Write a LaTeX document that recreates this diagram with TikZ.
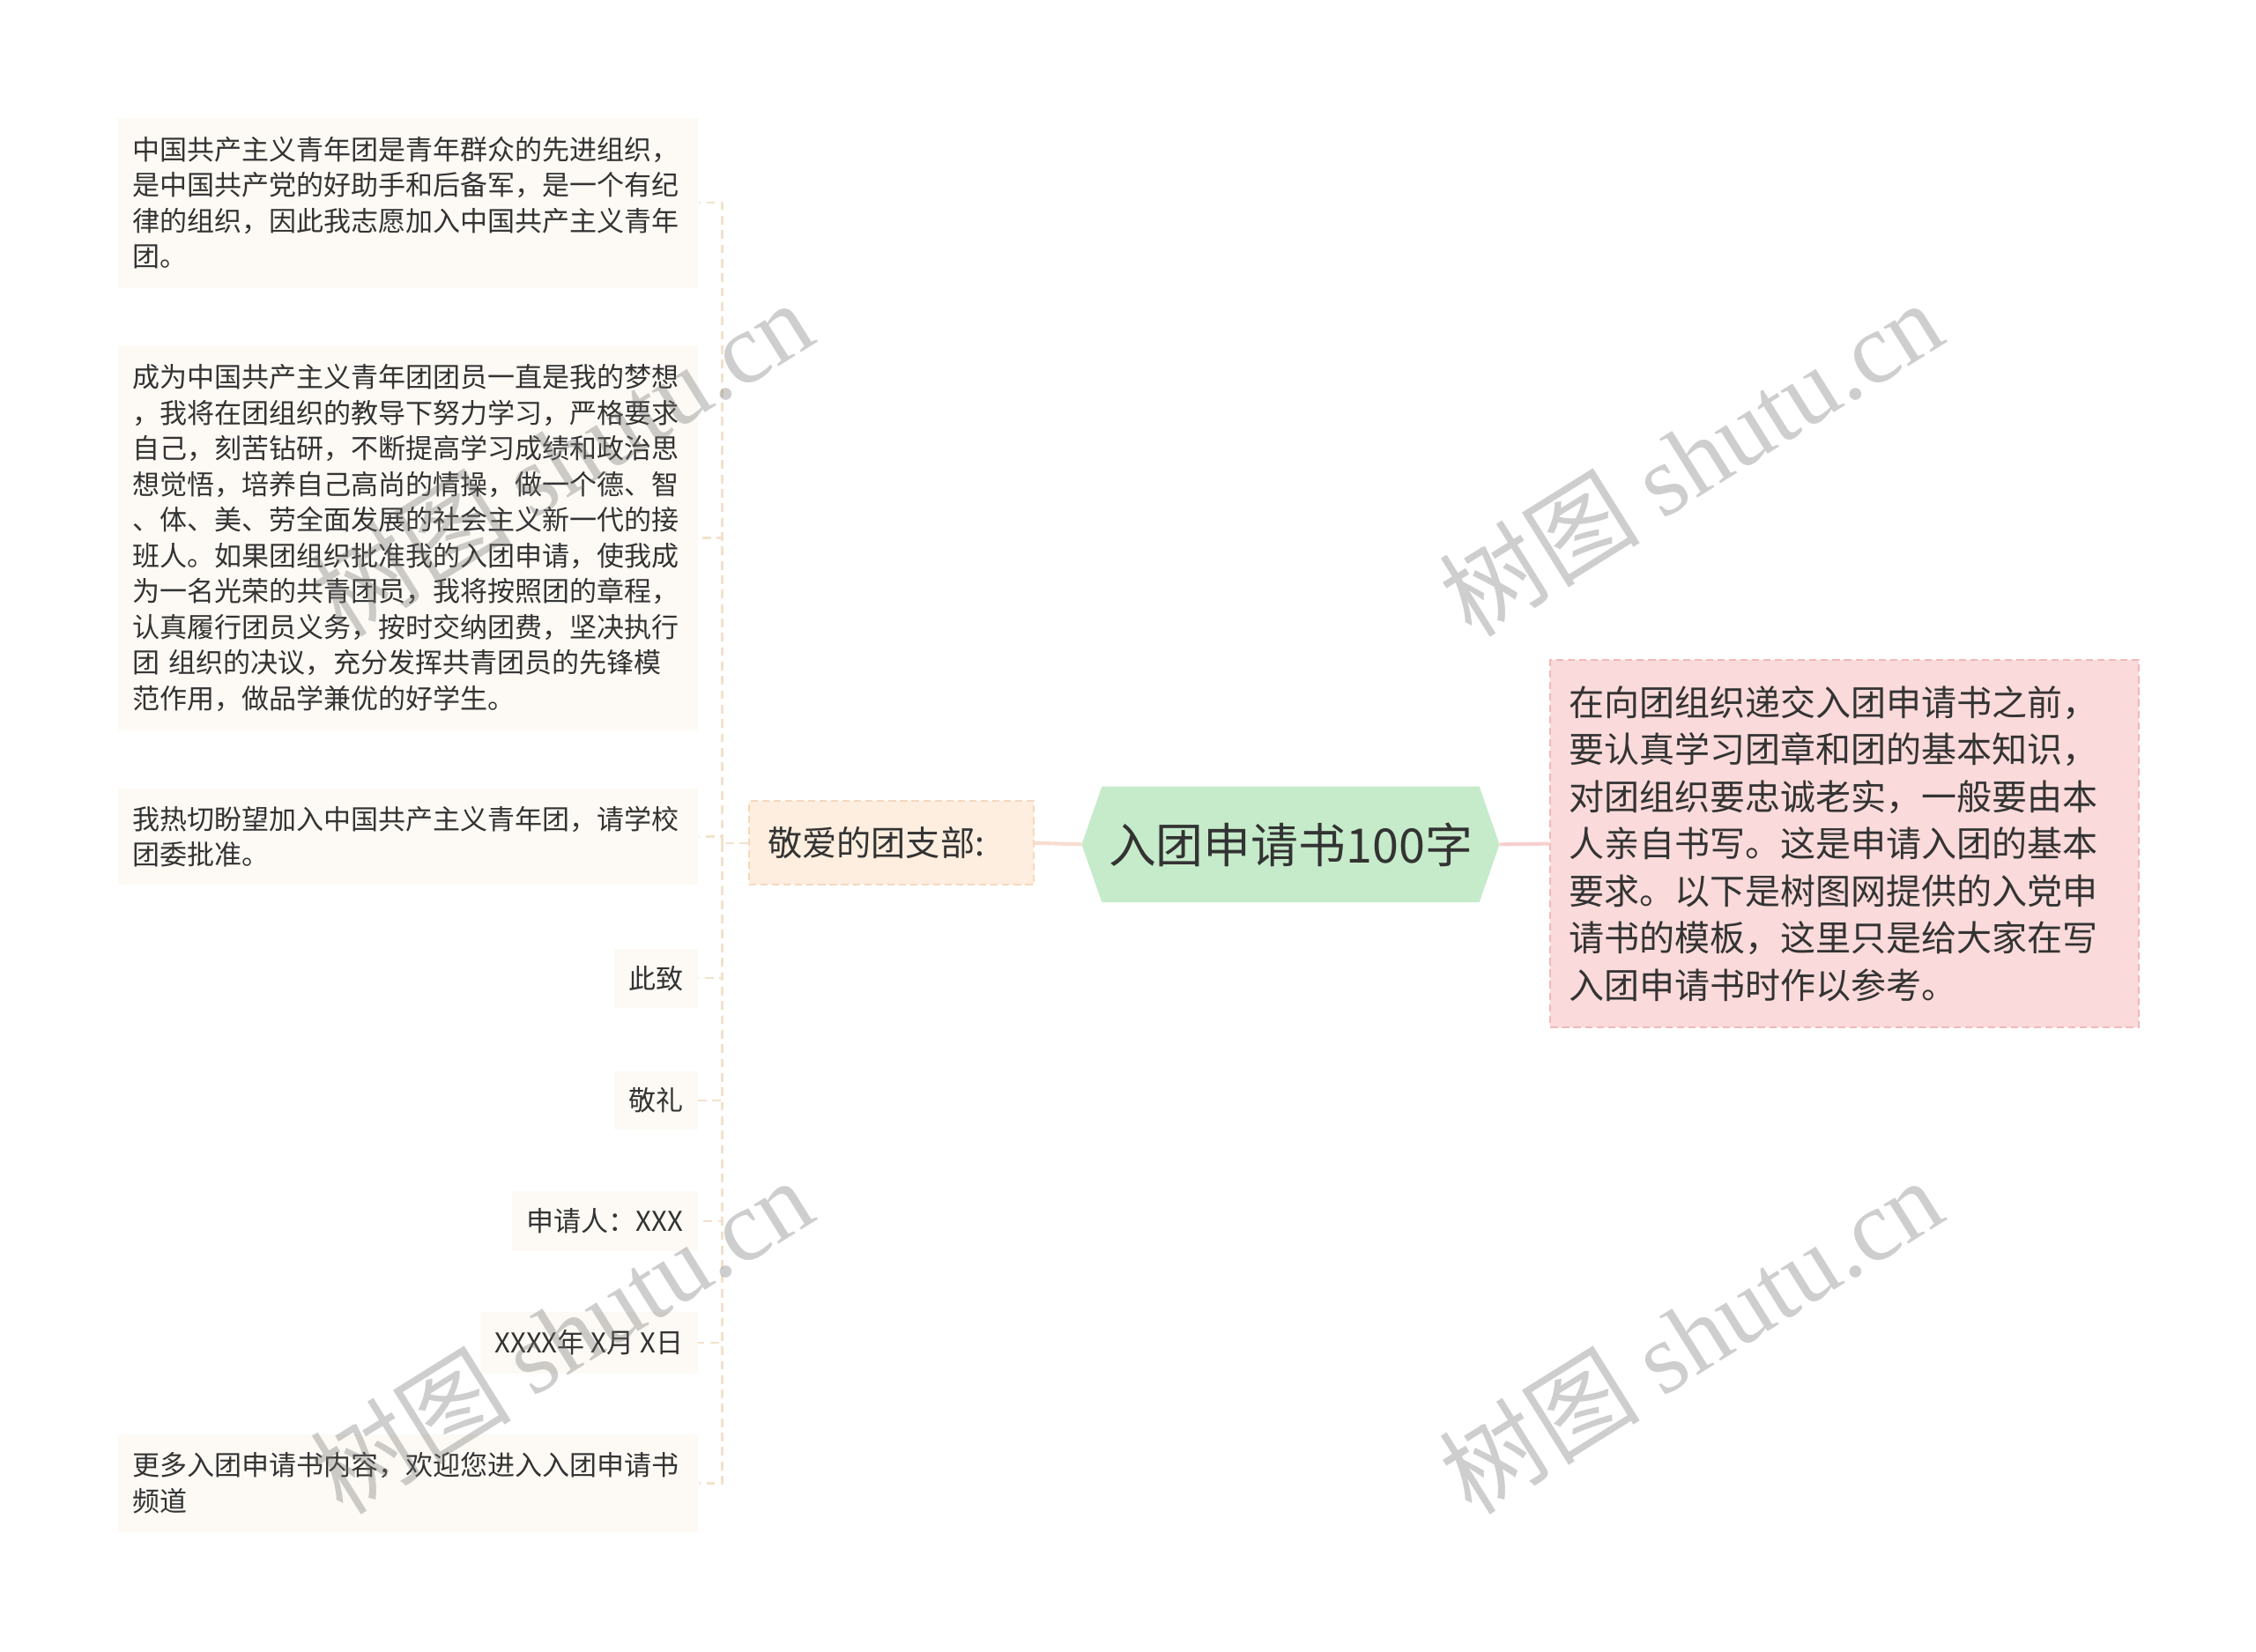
\documentclass[tikz,border=0pt]{standalone}
\usepackage{fontspec}
\setmainfont{Noto Sans CJK SC}
\newfontfamily\wmserif{Liberation Serif}
\newfontfamily\wmcjk{Noto Sans CJK SC}
\usetikzlibrary{backgrounds}
\definecolor{txt}{HTML}{333333}
\definecolor{leaffill}{HTML}{FDFAF5}
\definecolor{trunk}{HTML}{F2E2CC}
\definecolor{subfill}{HTML}{FDEEDF}
\definecolor{subdraw}{HTML}{F6D8BC}
\definecolor{rootfill}{HTML}{C6EBCA}
\definecolor{notefill}{HTML}{FADADA}
\definecolor{notedraw}{HTML}{F0B9B9}
\definecolor{pinkline}{HTML}{F6CFCF}
\definecolor{peachline}{HTML}{F8DCCF}
\begin{document}
\begin{tikzpicture}[x=1pt,y=-1pt,
  leaf/.style={fill=leaffill, text=txt, inner xsep=10pt, inner ysep=0pt,
    font=\fontsize{19}{24.8}\selectfont},
  widebox/.style={leaf, anchor=west, minimum width=403pt, text width=383pt, align=left},
  shortbox/.style={leaf, anchor=east, align=right, minimum height=41pt},
  branch/.style={draw=trunk, line width=1.5pt, dash pattern=on 6pt off 4pt},
  subbox/.style={fill=subfill, draw=subdraw, line width=1.2pt, dash pattern=on 5pt off 3pt,
    text=txt, anchor=west, minimum width=198pt, minimum height=58pt, inner xsep=13pt,
    text width=172pt, align=left, font=\fontsize{24}{30}\selectfont},
  rootbox/.style={text=txt, minimum width=290pt, minimum height=80pt, inner sep=0pt,
    font=\fontsize{33}{40}\selectfont},
  notebox/.style={fill=notefill, draw=notedraw, line width=1.2pt, dash pattern=on 5pt off 3pt,
    text=txt, anchor=west, minimum width=409pt, minimum height=255pt, inner xsep=13pt,
    text width=383pt, align=left, font=\fontsize{24.5}{32.8}\selectfont},
  link/.style={line width=2.5pt},
  wm/.style={rotate=32, text=black!55, text opacity=0.35, inner sep=0pt}
]
\useasboundingbox (0,0) rectangle (1568,1148);
\begin{scope}[on background layer]
  \fill[white] (0,0) rectangle (1568,1148);
\end{scope}

% left leaves
\node[widebox, minimum height=118pt] (b1) at (82,141)
  {中国共产主义青年团是青年群众的先进组织，\\是中国共产党的好助手和后备军，是一个有纪\\律的组织，因此我志愿加入中国共产主义青年\\团。};
\node[widebox, minimum height=268pt] (b2) at (82,374)
  {成为中国共产主义青年团团员一直是我的梦想\\，我将在团组织的教导下努力学习，严格要求\\自己，刻苦钻研，不断提高学习成绩和政治思\\想觉悟，培养自己高尚的情操，做一个德、智\\、体、美、劳全面发展的社会主义新一代的接\\班人。如果团组织批准我的入团申请，使我成\\为一名光荣的共青团员，我将按照团的章程，\\认真履行团员义务，按时交纳团费，坚决执行\\团 组织的决议，充分发挥共青团员的先锋模\\范作用，做品学兼优的好学生。};
\node[widebox, minimum height=67pt] (b3) at (82,581.5)
  {我热切盼望加入中国共产主义青年团，请学校\\团委批准。};
\node[shortbox] (b4) at (485,680) {此致};
\node[shortbox] (b5) at (485,765) {敬礼};
\node[shortbox, minimum height=42pt] (b6) at (485,849) {申请人：XXX};
\node[shortbox, minimum height=43pt] (b7) at (485,933.5) {XXXX年 X月 X日};
\node[widebox, minimum height=68pt] (b8) at (82,1031)
  {更多入团申请书内容，欢迎您进入入团申请书\\频道};

% middle
\node[subbox] (sub) at (520,586) {敬爱的团支部:};
\node[rootbox] (root) at (897,587) {入团申请书100字};
\begin{scope}[on background layer]
  \fill[rootfill] (root.west) -- ([xshift=14pt]root.north west) -- ([xshift=-14pt]root.north east)
    -- (root.east) -- ([xshift=-14pt]root.south east) -- ([xshift=14pt]root.south west) -- cycle;
\end{scope}
\node[notebox] (note) at (1077,586.5)
  {在向团组织递交入团申请书之前，\\要认真学习团章和团的基本知识，\\对团组织要忠诚老实，一般要由本\\人亲自书写。这是申请入团的基本\\要求。以下是树图网提供的入党申\\请书的模板，这里只是给大家在写\\入团申请书时作以参考。};

% connectors
\coordinate (hub) at (502,586);
\draw[link, draw=peachline] (sub.east) -- (root.west);
\draw[link, draw=pinkline] (root.east) -- (note.west);
\draw[branch] (sub.west) -- (hub);
\foreach \n in {b1,b2,b3,b4,b5,b6,b7,b8}
  \draw[branch] (hub) |- (\n.east);

% watermarks
\node[wm] (wm1) at (390,318) {\fontsize{70}{70}\selectfont\wmcjk 树图 \wmserif shutu.cn};
\node[wm] (wm2) at (1175,318) {\fontsize{70}{70}\selectfont\wmcjk 树图 \wmserif shutu.cn};
\node[wm] (wm3) at (390,928) {\fontsize{70}{70}\selectfont\wmcjk 树图 \wmserif shutu.cn};
\node[wm] (wm4) at (1175,928) {\fontsize{70}{70}\selectfont\wmcjk 树图 \wmserif shutu.cn};
\end{tikzpicture}
\end{document}
